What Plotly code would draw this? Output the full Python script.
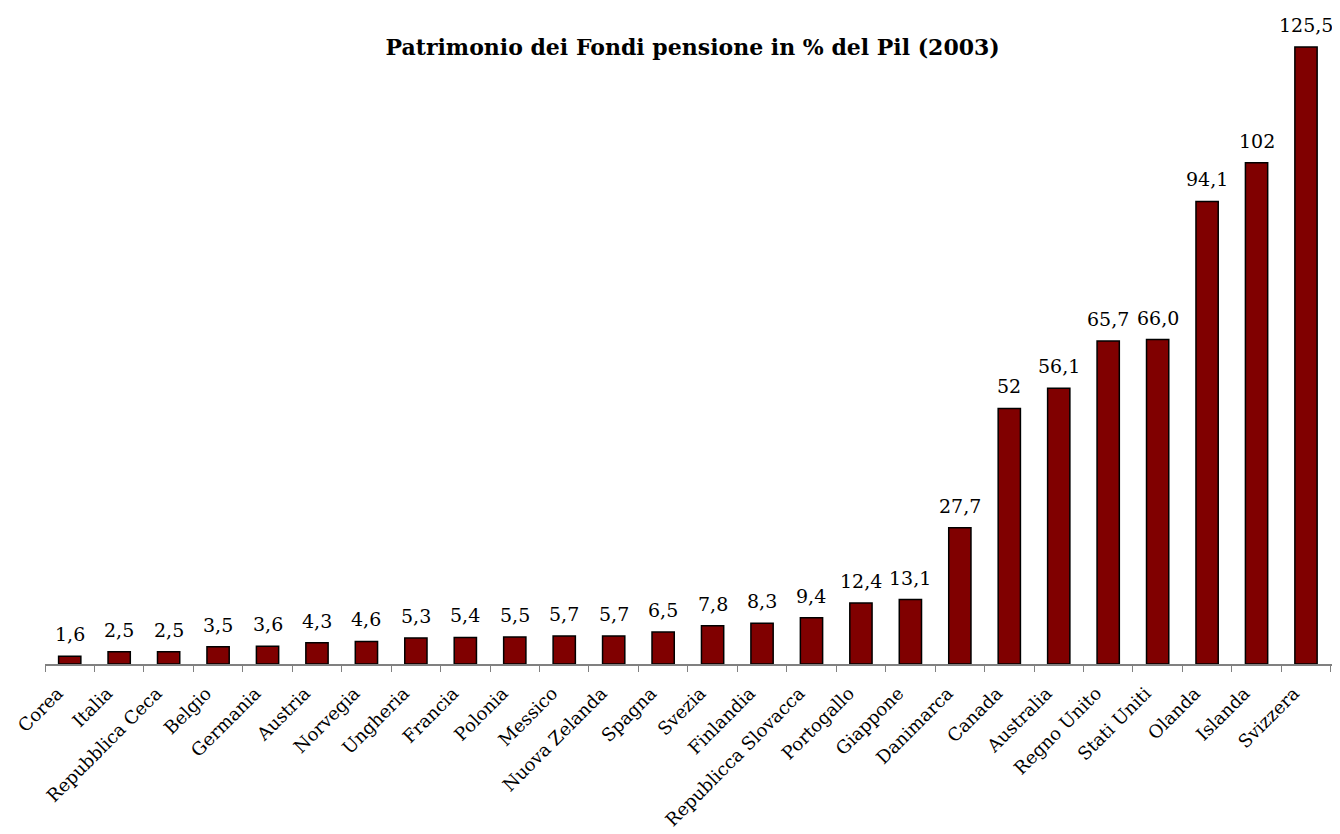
import plotly.graph_objects as go

countries = ["Corea", "Italia", "Repubblica Ceca", "Belgio", "Germania", "Austria",
             "Norvegia", "Ungheria", "Francia", "Polonia", "Messico", "Nuova Zelanda",
             "Spagna", "Svezia", "Finlandia", "Republicca Slovacca", "Portogallo",
             "Giappone", "Danimarca", "Canada", "Australia", "Regno Unito",
             "Stati Uniti", "Olanda", "Islanda", "Svizzera"]
values = [1.6, 2.5, 2.5, 3.5, 3.6, 4.3, 4.6, 5.3, 5.4, 5.5, 5.7, 5.7, 6.5, 7.8,
          8.3, 9.4, 12.4, 13.1, 27.7, 52, 56.1, 65.7, 66.0, 94.1, 102, 125.5]
labels = ["1,6", "2,5", "2,5", "3,5", "3,6", "4,3", "4,6", "5,3", "5,4", "5,5",
          "5,7", "5,7", "6,5", "7,8", "8,3", "9,4", "12,4", "13,1", "27,7", "52",
          "56,1", "65,7", "66,0", "94,1", "102", "125,5"]

serif = "DejaVu Serif"

fig = go.Figure(go.Bar(
    x=countries, y=values,
    marker=dict(color="#800000", line=dict(color="black", width=1.5)),
    width=0.45, hoverinfo="x+y",
))

for c, v, t in zip(countries, values, labels):
    fig.add_annotation(x=c, y=v, text=t, showarrow=False, yanchor="bottom",
                       yshift=9, font=dict(family=serif, size=19, color="black"))

fig.update_layout(
    width=1332, height=826,
    paper_bgcolor="white", plot_bgcolor="white",
    margin=dict(l=37, r=5, t=17, b=170),
    showlegend=False,
    title=dict(text="<b>Patrimonio dei Fondi pensione in % del Pil (2003)</b>",
               x=0.514, xanchor="center", y=1 - 39 / 826, yanchor="middle",
               font=dict(family=serif, size=22, color="black")),
    xaxis=dict(showline=True, linecolor="#808080", linewidth=1.5,
               ticks="outside", tickson="boundaries", ticklen=6, tickcolor="#808080",
               tickangle=-45, tickfont=dict(family=serif, size=18, color="black"),
               ticklabelshift=-12, ticklabelstandoff=10,
               showgrid=False),
    yaxis=dict(range=[0, 130], visible=False, showgrid=False),
)

fig.write_html("out.html")
